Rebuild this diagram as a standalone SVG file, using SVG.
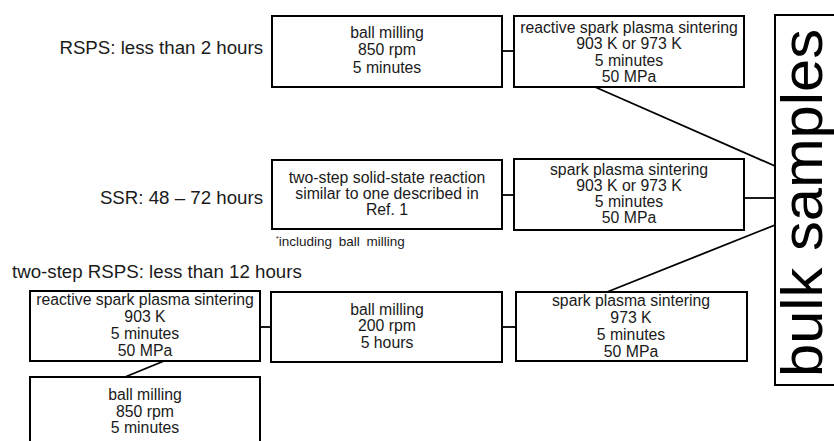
<svg xmlns="http://www.w3.org/2000/svg" width="834" height="441" viewBox="0 0 834 441">
<style>
.box{fill:#fff;stroke:#000;stroke-width:2}
.t{font-family:"Liberation Sans",Arial,sans-serif;font-size:15.8px;fill:#1a1a1a;text-anchor:middle}
.lbl{font-family:"Liberation Sans",Arial,sans-serif;font-size:18.7px;fill:#1a1a1a}
.ln{stroke:#000;stroke-width:1.8;fill:none}
</style>
<rect width="834" height="441" fill="#fff"/>
<g id="connectors">
<line class="ln" x1="502" y1="51" x2="514" y2="51"/>
<line class="ln" x1="502" y1="195" x2="514" y2="195"/>
<line class="ln" x1="260" y1="327" x2="271" y2="327"/>
<line class="ln" x1="502" y1="327" x2="516" y2="327"/>
<line class="ln" x1="595" y1="87" x2="775" y2="166"/>
<line class="ln" x1="744" y1="198" x2="775" y2="198"/>
<line class="ln" x1="607" y1="292" x2="775" y2="225"/>
<line class="ln" x1="164" y1="361" x2="125" y2="377"/>
</g>
<g id="labels">
<text class="lbl" x="263" y="54" text-anchor="end">RSPS: less than 2 hours</text>
<text class="lbl" x="263" y="204" text-anchor="end">SSR: 48 – 72 hours</text>
<text class="lbl" x="12" y="278">two-step RSPS: less than 12 hours</text>
</g>
<g id="bm1">
<rect class="box" x="272" y="16" width="230" height="71"/>
<text class="t" x="387" y="38">ball milling</text>
<text class="t" x="387" y="55">850 rpm</text>
<text class="t" x="387" y="72.5">5 minutes</text>
</g>
<g id="rsps1">
<rect class="box" x="514" y="16" width="230" height="71"/>
<text class="t" x="629" y="32.5">reactive spark plasma sintering</text>
<text class="t" x="629" y="49">903 K or 973 K</text>
<text class="t" x="629" y="65.5">5 minutes</text>
<text class="t" x="629" y="82">50 MPa</text>
</g>
<g id="ssr">
<rect class="box" x="272" y="160" width="230" height="69"/>
<text class="t" x="387" y="183">two-step solid-state reaction</text>
<text class="t" x="387" y="198.5">similar to one described in</text>
<text class="t" x="387" y="214.5">Ref. 1</text>
<text x="276" y="246" font-family="Liberation Sans, Arial, sans-serif" font-size="13.5" fill="#1a1a1a" word-spacing="3"><tspan font-size="7" dy="-5">*</tspan><tspan dy="5">including ball milling</tspan></text>
</g>
<g id="sps1">
<rect class="box" x="514" y="159" width="230" height="71"/>
<text class="t" x="629" y="175">spark plasma sintering</text>
<text class="t" x="629" y="191">903 K or 973 K</text>
<text class="t" x="629" y="207">5 minutes</text>
<text class="t" x="629" y="223">50 MPa</text>
</g>
<g id="rsps2">
<rect class="box" x="30" y="291" width="230" height="70"/>
<text class="t" x="145" y="305">reactive spark plasma sintering</text>
<text class="t" x="145" y="322">903 K</text>
<text class="t" x="145" y="339">5 minutes</text>
<text class="t" x="145" y="356">50 MPa</text>
</g>
<g id="bm2">
<rect class="box" x="271" y="292" width="231" height="70"/>
<text class="t" x="387" y="314.5">ball milling</text>
<text class="t" x="387" y="331">200 rpm</text>
<text class="t" x="387" y="347.5">5 hours</text>
</g>
<g id="sps2">
<rect class="box" x="516" y="292" width="231" height="69"/>
<text class="t" x="631" y="306">spark plasma sintering</text>
<text class="t" x="631" y="323">973 K</text>
<text class="t" x="631" y="340">5 minutes</text>
<text class="t" x="631" y="357">50 MPa</text>
</g>
<g id="bm3">
<rect class="box" x="30" y="377" width="230" height="80"/>
<text class="t" x="145" y="400">ball milling</text>
<text class="t" x="145" y="416.5">850 rpm</text>
<text class="t" x="145" y="433">5 minutes</text>
</g>
<g id="bulk">
<rect class="box" x="775" y="15" width="80" height="370"/>
<text transform="translate(822,203) rotate(-90)" font-family="Liberation Sans, Arial, sans-serif" font-size="57" fill="#000" text-anchor="middle" textLength="348" lengthAdjust="spacingAndGlyphs">bulk samples</text>
</g>
</svg>
